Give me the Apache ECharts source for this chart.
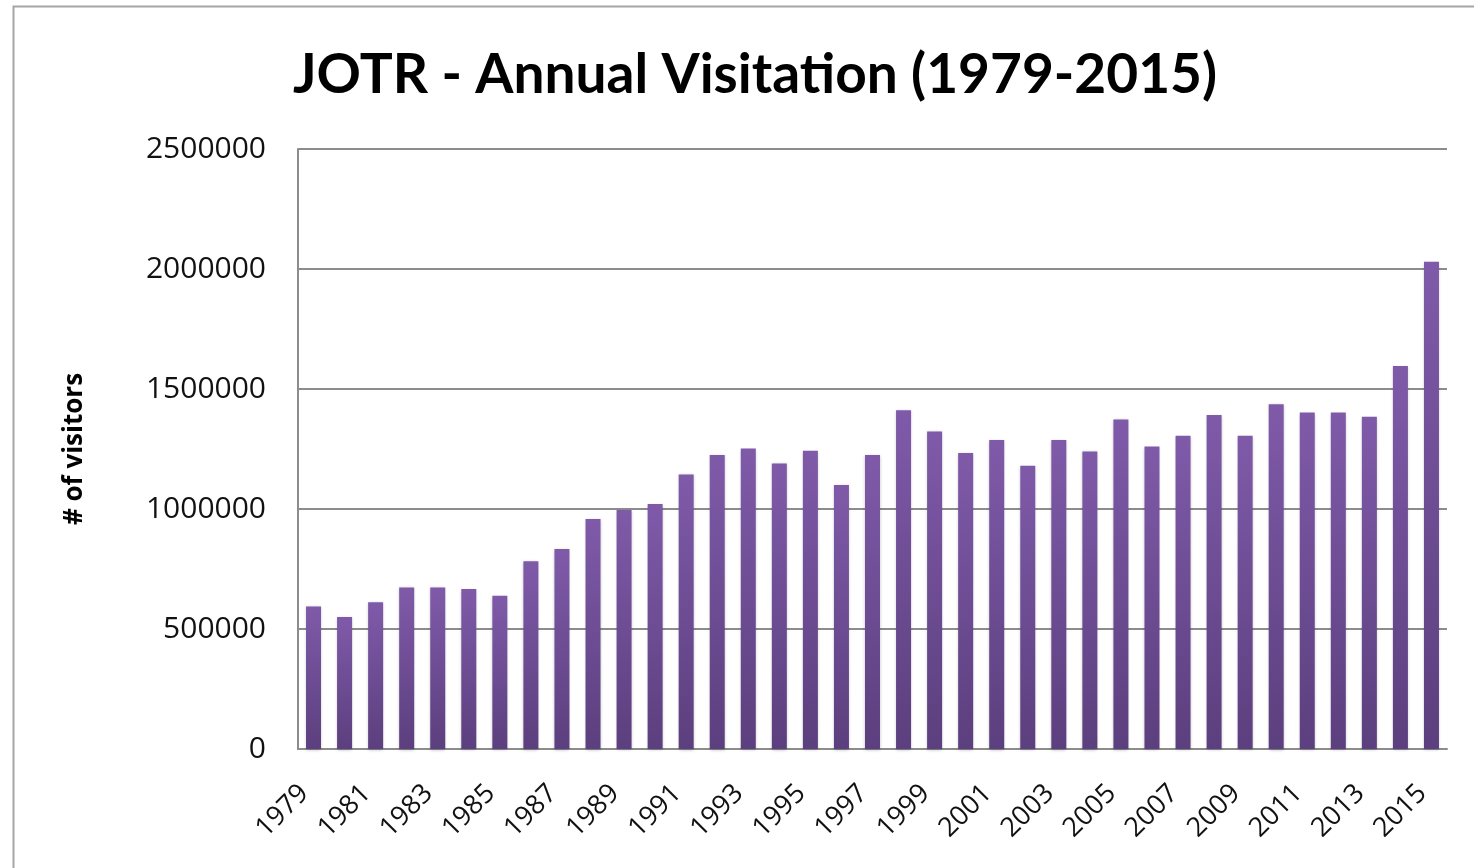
<!DOCTYPE html>
<html>
<head>
<meta charset="utf-8">
<script src="https://cdn.jsdelivr.net/npm/echarts@6/dist/echarts.min.js"></script>
<style>
  html, body { margin: 0; padding: 0; background: #fff; }
  #chart { width: 1474px; height: 868px; }
</style>
</head>
<body>
<div id="chart"></div>
<script>
// annual visitors, Joshua Tree NP
const years = []
for (let y = 1979; y <= 2015; y++) years.push(String(y))

const visitors = [
  594000, 550000, 611000, 673000, 673000, 667000, 639000, 782000, 833000, 958000,
  996000, 1021000, 1144000, 1225000, 1252000, 1190000, 1243000, 1100000, 1225000, 1411000,
  1323000, 1233000, 1287000, 1180000, 1287000, 1240000, 1373000, 1260000, 1305000, 1392000,
  1305000, 1436000, 1402000, 1402000, 1384000, 1596000, 2030000
]

const chart = echarts.init(document.getElementById('chart'))

const option = {
  backgroundColor: '#fff',
  animation: false,
  title: {
    text: 'JOTR - Annual Visitation (1979-2015)',
    left: 750,
    textAlign: 'center',
    top: 43,
    textStyle: {
      fontFamily: 'Lato',
      fontWeight: 'bold',
      fontSize: 55,
      color: '#000'
    }
  },
  graphic: [{
    type: 'rect',
    shape: { x: 13.5, y: 6.5, width: 1500, height: 900 },
    style: { fill: 'none', stroke: '#a6a6a6', lineWidth: 2 },
    silent: true
  }],
  grid: { left: 298, right: 27, top: 149, bottom: 119 },
  xAxis: {
    type: 'category',
    data: years,
    axisLine: { lineStyle: { color: '#8c8c8c', width: 2 } },
    axisTick: { show: false },
    axisLabel: {
      interval: 1,
      rotate: 45,
      margin: 31,
      padding: [0, 13, 0, 0],
      fontFamily: 'Open Sans',
      fontSize: 27,
      color: '#111'
    }
  },
  yAxis: {
    type: 'value',
    min: 0,
    max: 2500000,
    interval: 500000,
    name: '# of visitors',
    nameLocation: 'middle',
    nameGap: 210,
    nameTextStyle: {
      fontFamily: 'Open Sans',
      fontWeight: 'bold',
      fontSize: 26,
      color: '#000'
    },
    axisLine: { show: true, lineStyle: { color: '#8c8c8c', width: 2 } },
    axisTick: { show: false },
    axisLabel: {
      margin: 32,
      fontFamily: 'Open Sans',
      fontSize: 30,
      color: '#111',
      formatter: (v) => String(v)
    },
    splitLine: { lineStyle: { color: '#8c8c8c', width: 2 } }
  },
  series: [{
    type: 'bar',
    data: visitors,
    barWidth: 15,
    itemStyle: {
      color: new echarts.graphic.LinearGradient(0, 0, 0, 1, [
        { offset: 0, color: '#7f5aa9' },
        { offset: 1, color: '#5c3f7e' }
      ]),
      shadowColor: 'rgba(0,0,0,0.25)',
      shadowBlur: 3,
      shadowOffsetY: 1
    }
  }]
}

chart.setOption(option)
</script>
</body>
</html>
